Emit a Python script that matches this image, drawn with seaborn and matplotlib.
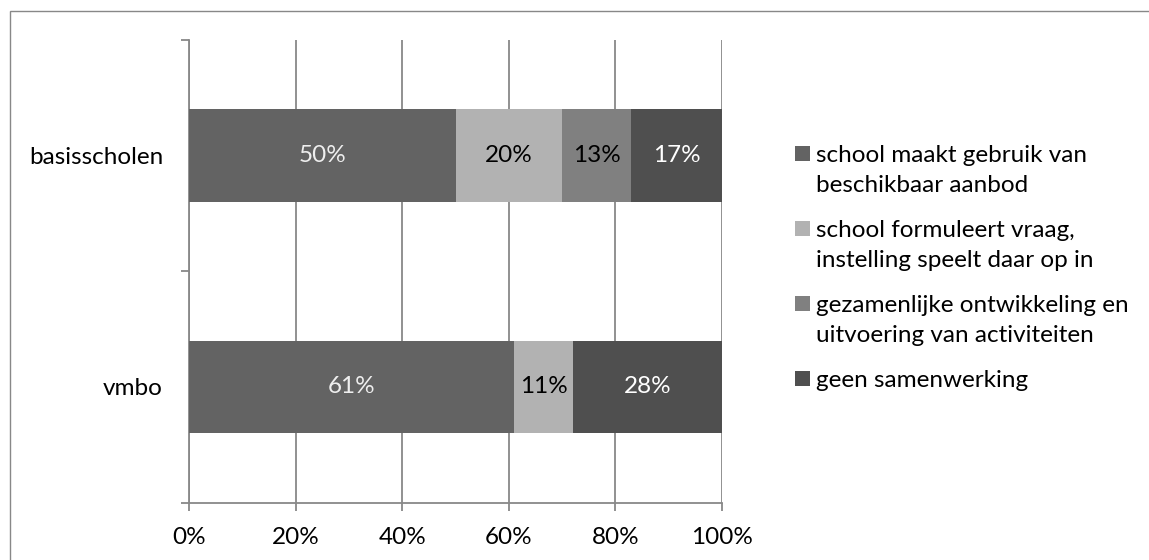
import matplotlib
matplotlib.use("Agg")
import matplotlib.pyplot as plt
import matplotlib.patches as mpatches
import numpy as np
import pandas as pd
import seaborn as sns

categories = ["basisscholen", "vmbo"]
series_names = [
    "school maakt gebruik van\nbeschikbaar aanbod",
    "school formuleert vraag,\ninstelling speelt daar op in",
    "gezamenlijke ontwikkeling en\nuitvoering van activiteiten",
    "geen samenwerking",
]
aanbod = [50, 61]
vraag = [20, 11]
gezamenlijk = [13, 0]
geen = [17, 28]
colors = ["#636363", "#b2b2b2", "#808080", "#4f4f4f"]
label_colors = ["#eeeeee", "#000000", "#000000", "#ffffff"]
x_ticks = [0, 20, 40, 60, 80, 100]
FS = 17.5
W, H = 1149, 560

sns.set_theme(style="white")
plt.rcParams["font.family"] = ["Lato", "DejaVu Sans"]

values = np.array([aanbod, vraag, gezamenlijk, geen], dtype=float)
cumulative = np.cumsum(values, axis=0)

fig = plt.figure(figsize=(W / 100, H / 100), dpi=100)
ax = fig.add_axes([189 / W, 57.5 / H, 533 / W, 462.5 / H])

# stacked bars: draw cumulative totals from the outermost segment inward
for i in range(len(series_names) - 1, -1, -1):
    df = pd.DataFrame({"categorie": categories, "waarde": cumulative[i]})
    sns.barplot(data=df, y="categorie", x="waarde", orient="h", color=colors[i],
                width=0.4, saturation=1, ax=ax, zorder=3, linewidth=0)

# value labels centred in each segment
for i in range(len(series_names)):
    for j, cat in enumerate(categories):
        v = values[i, j]
        if v <= 0:
            continue
        left = cumulative[i, j] - v
        ax.text(left + v / 2, j, f"{int(v)}%", ha="center", va="center",
                fontsize=FS, color=label_colors[i], zorder=4)

ax.set_xlim(0, 100)
ax.set_ylim(1.5, -0.5)
ax.set_xticks(x_ticks)
ax.set_xticklabels([f"{t}%" for t in x_ticks], fontsize=FS)
ax.set_yticks([0, 1])
ax.set_yticklabels(categories, fontsize=FS)
ax.set_xlabel("")
ax.set_ylabel("")
ax.xaxis.grid(True, color="#888888", linewidth=1.3, zorder=0)
ax.set_axisbelow(True)
for side in ["top", "right"]:
    ax.spines[side].set_visible(False)
for side in ["left", "bottom"]:
    ax.spines[side].set_color("#888888")
    ax.spines[side].set_linewidth(1.3)

# category-boundary tick marks on the y axis
ax.set_yticks([-0.5, 0.5, 1.5], minor=True)
ax.tick_params(axis="y", which="major", length=0, pad=18.7)
ax.tick_params(axis="y", which="minor", length=6, color="#888888", width=1.3, left=True)
ax.tick_params(axis="x", which="major", length=6, color="#888888", width=1.3,
               bottom=True, pad=12)
for lbl in ax.get_xticklabels() + ax.get_yticklabels():
    lbl.set_color("#000000")

# legend: square swatch followed by (possibly two-line) label, entries evenly spaced
swatch = 15
entry_pitch = 75
line_pitch = 30
for k, (name, col) in enumerate(zip(series_names, colors)):
    top = 146 + entry_pitch * k
    fig.patches.append(mpatches.Rectangle((795 / W, 1 - (top + swatch) / H),
                                          swatch / W, swatch / H,
                                          transform=fig.transFigure,
                                          facecolor=col, edgecolor="none"))
    for n, line in enumerate(name.split("\n")):
        base = 162 + entry_pitch * k + line_pitch * n
        fig.text(816 / W, 1 - base / H, line, fontsize=FS, color="#000000",
                 ha="left", va="baseline")

# chart-area border (left and top edges fall inside the canvas)
fig.patches.append(mpatches.Rectangle((10 / W, -0.1), 1.2, 1 - 11 / H + 0.1,
                                      transform=fig.transFigure, fill=False,
                                      edgecolor="#888888", linewidth=1.0))

fig.savefig("out.png", dpi=100)
